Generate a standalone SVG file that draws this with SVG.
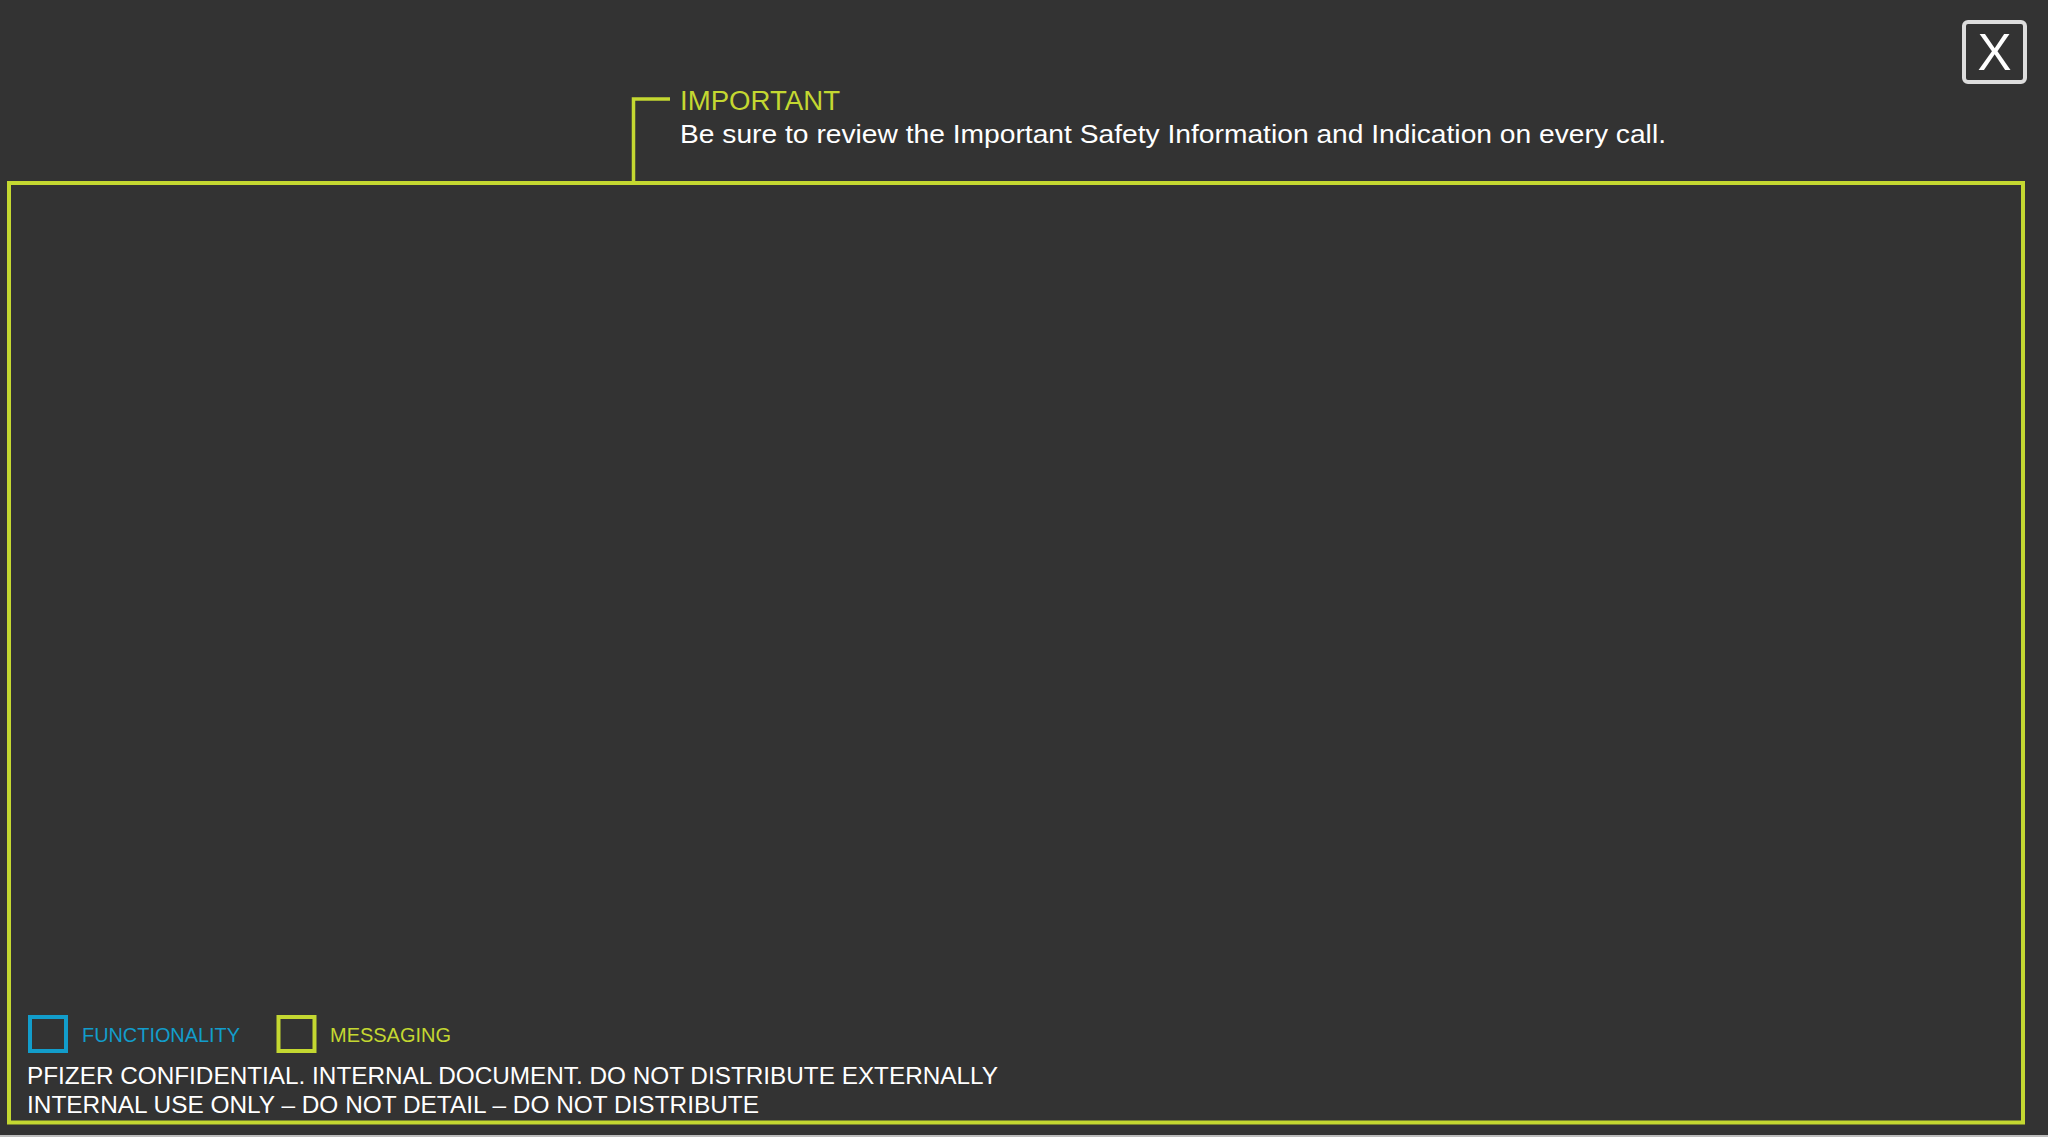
<svg xmlns="http://www.w3.org/2000/svg" width="2048" height="1137" viewBox="0 0 2048 1137">
<style>
.t{font-family:"Liberation Sans",Arial,sans-serif}
.g{fill:#c4d831}
.w{fill:#ffffff}
.b{fill:#129dcb}
</style>
<rect x="0" y="0" width="2048" height="1137" fill="#333333"/>
<rect x="0" y="1135" width="2048" height="2" fill="#bdbdbd"/>
<g id="frame">
<rect x="9" y="183" width="2014" height="939.5" fill="none" stroke="#c4d831" stroke-width="4"/>
</g>
<g id="connectors">
<path d="M670,99 H633.5 V183" fill="none" stroke="#c4d831" stroke-width="3.5"/>
</g>
<g id="important">
<text class="t g" x="680" y="110" font-size="27" textLength="160" lengthAdjust="spacingAndGlyphs">IMPORTANT</text>
<text class="t w" x="680" y="143" font-size="26" textLength="986" lengthAdjust="spacingAndGlyphs">Be sure to review the Important Safety Information and Indication on every call.</text>
</g>
<g id="close">
<rect x="1964" y="22" width="61" height="60" rx="4" fill="none" stroke="#dddddd" stroke-width="4"/>
<text class="t w" x="1994.5" y="70" font-size="51" text-anchor="middle">X</text>
</g>
<g id="legend-functionality">
<rect x="30" y="1017" width="36" height="34" fill="none" stroke="#129dcb" stroke-width="4"/>
<text class="t b" x="82" y="1042" font-size="21" textLength="158" lengthAdjust="spacingAndGlyphs">FUNCTIONALITY</text>
</g>
<g id="legend-messaging">
<rect x="278.5" y="1017" width="36" height="34" fill="none" stroke="#c4d831" stroke-width="4"/>
<text class="t g" x="330" y="1042" font-size="21" textLength="121" lengthAdjust="spacingAndGlyphs">MESSAGING</text>
</g>
<g id="footer">
<text class="t w" x="27" y="1083.5" font-size="24" textLength="971" lengthAdjust="spacingAndGlyphs">PFIZER CONFIDENTIAL. INTERNAL DOCUMENT. DO NOT DISTRIBUTE EXTERNALLY</text>
<text class="t w" x="27" y="1113" font-size="24" textLength="732" lengthAdjust="spacingAndGlyphs">INTERNAL USE ONLY – DO NOT DETAIL – DO NOT DISTRIBUTE</text>
</g>
</svg>
